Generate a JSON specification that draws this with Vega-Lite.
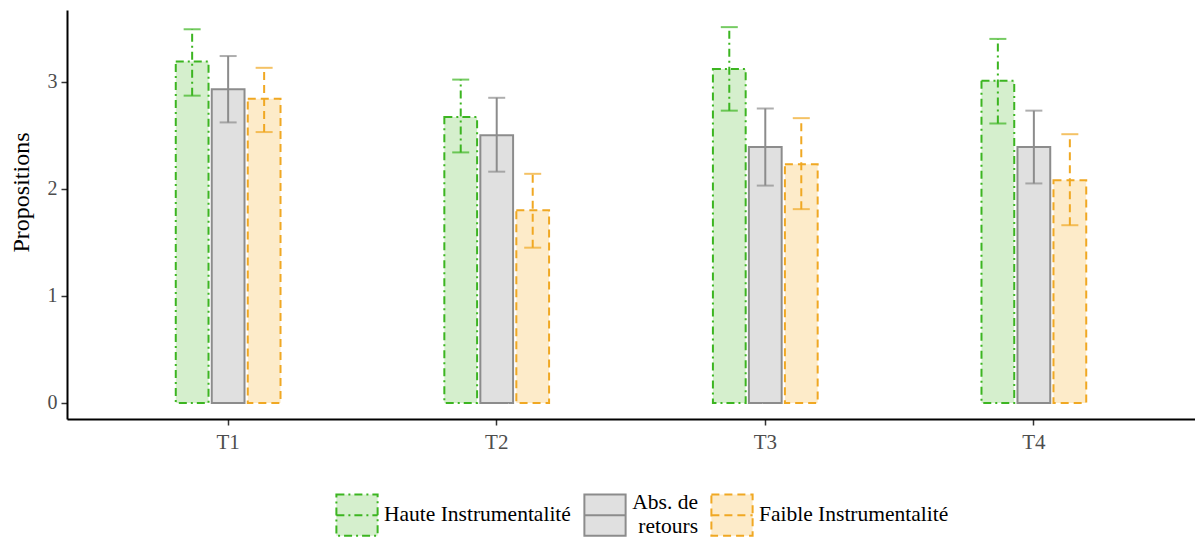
{
  "$schema": "https://vega.github.io/schema/vega-lite/v6.json",
  "width": 1128,
  "height": 409,
  "autosize": {"type": "none"},
  "padding": {"left": 67, "top": 10, "right": 0, "bottom": 120},
  "background": "white",
  "config": {
    "font": "Liberation Serif",
    "view": {"stroke": null},
    "legend": {"labelFont": "Liberation Serif", "titleFont": "Liberation Serif"}
  },
  "data": {"values": [
    {"t": "T1", "g": "Haute Instrumentalité", "mean": 3.19, "lo": 2.87, "hi": 3.49},
    {"t": "T1", "g": "Abs. de retours", "mean": 2.93, "lo": 2.62, "hi": 3.24},
    {"t": "T1", "g": "Faible Instrumentalité", "mean": 2.84, "lo": 2.53, "hi": 3.13},
    {"t": "T2", "g": "Haute Instrumentalité", "mean": 2.67, "lo": 2.34, "hi": 3.02},
    {"t": "T2", "g": "Abs. de retours", "mean": 2.5, "lo": 2.16, "hi": 2.85},
    {"t": "T2", "g": "Faible Instrumentalité", "mean": 1.8, "lo": 1.45, "hi": 2.14},
    {"t": "T3", "g": "Haute Instrumentalité", "mean": 3.12, "lo": 2.73, "hi": 3.51},
    {"t": "T3", "g": "Abs. de retours", "mean": 2.39, "lo": 2.03, "hi": 2.75},
    {"t": "T3", "g": "Faible Instrumentalité", "mean": 2.23, "lo": 1.81, "hi": 2.66},
    {"t": "T4", "g": "Haute Instrumentalité", "mean": 3.01, "lo": 2.61, "hi": 3.4},
    {"t": "T4", "g": "Abs. de retours", "mean": 2.39, "lo": 2.05, "hi": 2.73},
    {"t": "T4", "g": "Faible Instrumentalité", "mean": 2.08, "lo": 1.66, "hi": 2.51}
  ]},
  "encoding": {
    "x": {"field": "t", "type": "nominal", "title": null, "scale": {"paddingInner": 0.61, "paddingOuter": 0.405},
      "axis": {"labelAngle": 0, "labelPadding": 6, "labelFontSize": 21, "labelColor": "#4d4d4d", "labelFont": "Liberation Serif", "domainColor": "black", "domainWidth": 2, "tickColor": "#333", "tickSize": 6, "tickWidth": 1.5}},
    "xOffset": {"field": "g", "type": "nominal", "sort": ["Haute Instrumentalité", "Abs. de retours", "Faible Instrumentalité"], "scale": {"paddingInner": 0.09, "paddingOuter": 0}}
  },
  "layer": [
    {
      "mark": {"type": "bar", "strokeWidth": 2},
      "encoding": {
        "y": {"field": "mean", "type": "quantitative", "title": "Propositions", "scale": {"domain": [-0.15, 3.67], "nice": false, "zero": false},
          "axis": {"values": [0, 1, 2, 3], "format": "d", "grid": false, "titlePadding": 14, "titleY": 182, "titleFontSize": 24, "titleFontWeight": "normal", "titleColor": "black", "titleFont": "Liberation Serif", "labelFontSize": 20, "labelColor": "#4d4d4d", "labelFont": "Liberation Serif", "domainColor": "black", "domainWidth": 2, "tickColor": "#333", "tickSize": 6, "tickWidth": 1.5, "labelPadding": 4}},
        "fill": {"field": "g", "type": "nominal", "title": null, "sort": ["Haute Instrumentalité", "Abs. de retours", "Faible Instrumentalité"],
          "scale": {"domain": ["Haute Instrumentalité", "Abs. de retours", "Faible Instrumentalité"], "range": ["#d5efcd", "#e0e0e0", "#fdebc9"]},
          "legend": {"orient": "none", "legendX": 268, "legendY": 483, "direction": "horizontal", "symbolType": "M-1,-1H1V1H-1Z M-1,0H1", "symbolSize": 1700, "symbolStrokeWidth": 2, "labelFontSize": 21.5, "labelFont": "Liberation Serif", "labelColor": "black", "labelLimit": 400, "labelExpr": "datum.label == 'Abs. de retours' ? ['Abs. de', 'retours'] : datum.label", "columnPadding": 9, "labelOffset": 5,
            "encode": {"labels": {"update": {"dy": {"signal": "datum.value == 'Abs. de retours' ? -12 : 0"}, "dx": {"signal": "datum.value == 'Abs. de retours' ? 66 : 0"}, "align": {"signal": "datum.value == 'Abs. de retours' ? 'right' : 'left'"}, "font": {"value": "Liberation Serif"}}}}}},
        "stroke": {"field": "g", "type": "nominal", "title": null, "sort": ["Haute Instrumentalité", "Abs. de retours", "Faible Instrumentalité"],
          "scale": {"domain": ["Haute Instrumentalité", "Abs. de retours", "Faible Instrumentalité"], "range": ["#3cb521", "#8c8c8c", "#f0a823"]}},
        "strokeDash": {"field": "g", "type": "nominal", "title": null, "sort": ["Haute Instrumentalité", "Abs. de retours", "Faible Instrumentalité"],
          "scale": {"domain": ["Haute Instrumentalité", "Abs. de retours", "Faible Instrumentalité"], "range": [[8, 4, 2, 4], [1, 0], [8, 5]]}}
      }
    },
    {
      "mark": {"type": "rule", "strokeWidth": 2},
      "encoding": {
        "y": {"field": "lo", "type": "quantitative"},
        "y2": {"field": "hi"},
        "stroke": {"field": "g", "type": "nominal"},
        "strokeDash": {"field": "g", "type": "nominal"}
      }
    },
    {
      "mark": {"type": "tick", "thickness": 2, "size": 17, "orient": "horizontal"},
      "encoding": {
        "y": {"field": "lo", "type": "quantitative"},
        "color": {"field": "g", "type": "nominal", "legend": null, "scale": {"domain": ["Haute Instrumentalité", "Abs. de retours", "Faible Instrumentalité"], "range": ["#3cb521", "#8c8c8c", "#f0a823"]}}
      }
    },
    {
      "mark": {"type": "tick", "thickness": 2, "size": 17, "orient": "horizontal"},
      "encoding": {
        "y": {"field": "hi", "type": "quantitative"},
        "color": {"field": "g", "type": "nominal", "legend": null, "scale": {"domain": ["Haute Instrumentalité", "Abs. de retours", "Faible Instrumentalité"], "range": ["#3cb521", "#8c8c8c", "#f0a823"]}}
      }
    }
  ]
}
